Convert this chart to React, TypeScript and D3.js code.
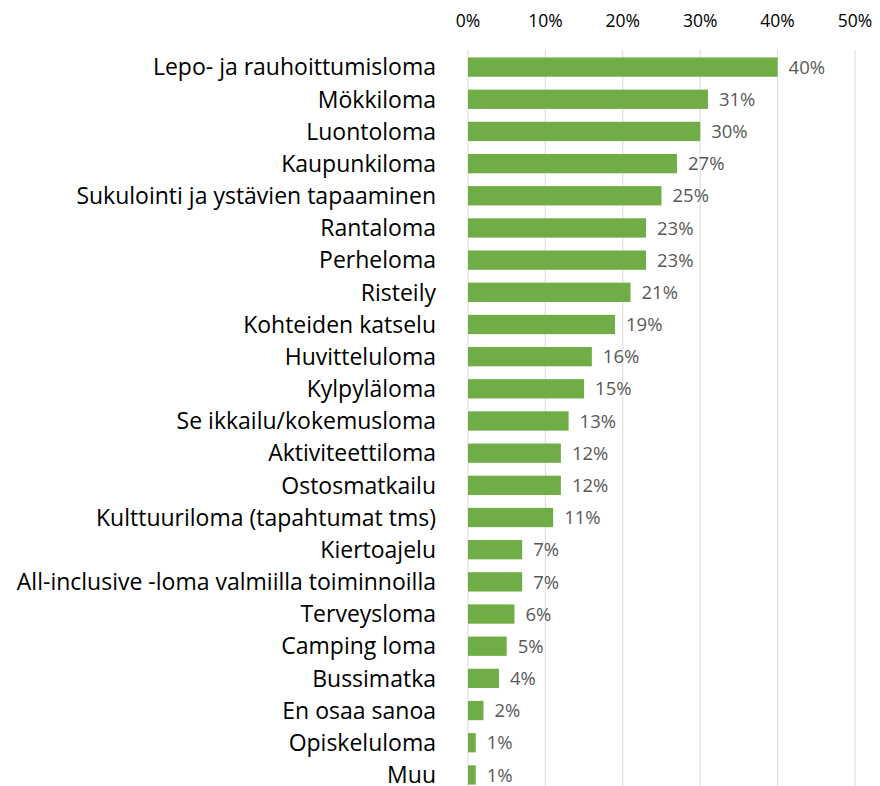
import React from "react";
import * as d3 from "d3";

const categories = [
  "Lepo- ja rauhoittumisloma",
  "Mökkiloma",
  "Luontoloma",
  "Kaupunkiloma",
  "Sukulointi ja ystävien tapaaminen",
  "Rantaloma",
  "Perheloma",
  "Risteily",
  "Kohteiden katselu",
  "Huvitteluloma",
  "Kylpyläloma",
  "Se ikkailu/kokemusloma",
  "Aktiviteettiloma",
  "Ostosmatkailu",
  "Kulttuuriloma (tapahtumat tms)",
  "Kiertoajelu",
  "All-inclusive -loma valmiilla toiminnoilla",
  "Terveysloma",
  "Camping loma",
  "Bussimatka",
  "En osaa sanoa",
  "Opiskeluloma",
  "Muu",
];
const values = [40, 31, 30, 27, 25, 23, 23, 21, 19, 16, 15, 13, 12, 12, 11, 7, 7, 6, 5, 4, 2, 1, 1];
const ticks = [0, 10, 20, 30, 40, 50];

const W = 880;
const H = 786;
const FONT = "'Open Sans', sans-serif";

export default function App() {
  const x = d3.scaleLinear().domain([0, 50]).range([468, 855]);
  const y = d3
    .scaleBand()
    .domain(categories)
    .range([51, 791])
    .paddingInner(0.4)
    .paddingOuter(0.2);
  return (
    <svg width={W} height={H} style={{ position: "absolute", left: 0, top: 0 }}>
      <rect width={W} height={H} fill="#fff" />
      {ticks.map((t) => (
        <g key={t}>
          <line x1={x(t)} x2={x(t)} y1={50} y2={H} stroke="#d9d9d9" strokeWidth={1} />
          <text x={x(t)} y={26.5} textAnchor="middle" fontFamily={FONT} fontSize={17.5} fill="#000">
            {t}%
          </text>
        </g>
      ))}
      {categories.map((c, i) => {
        const yy = y(c)!;
        const bh = y.bandwidth();
        return (
          <g key={c}>
            <rect x={x(0)} y={yy} width={x(values[i]) - x(0)} height={bh} fill="#70ad47" />
            <text
              x={436}
              y={yy + bh / 2}
              dy="0.36em"
              textAnchor="end"
              fontFamily={FONT}
              fontSize={23}
              fill="#000"
            >
              {c}
            </text>
            <text
              x={x(values[i]) + 11}
              y={yy + bh / 2}
              dy="0.36em"
              fontFamily={FONT}
              fontSize={18.5}
              fill="#595959"
            >
              {values[i]}%
            </text>
          </g>
        );
      })}
    </svg>
  );
}
